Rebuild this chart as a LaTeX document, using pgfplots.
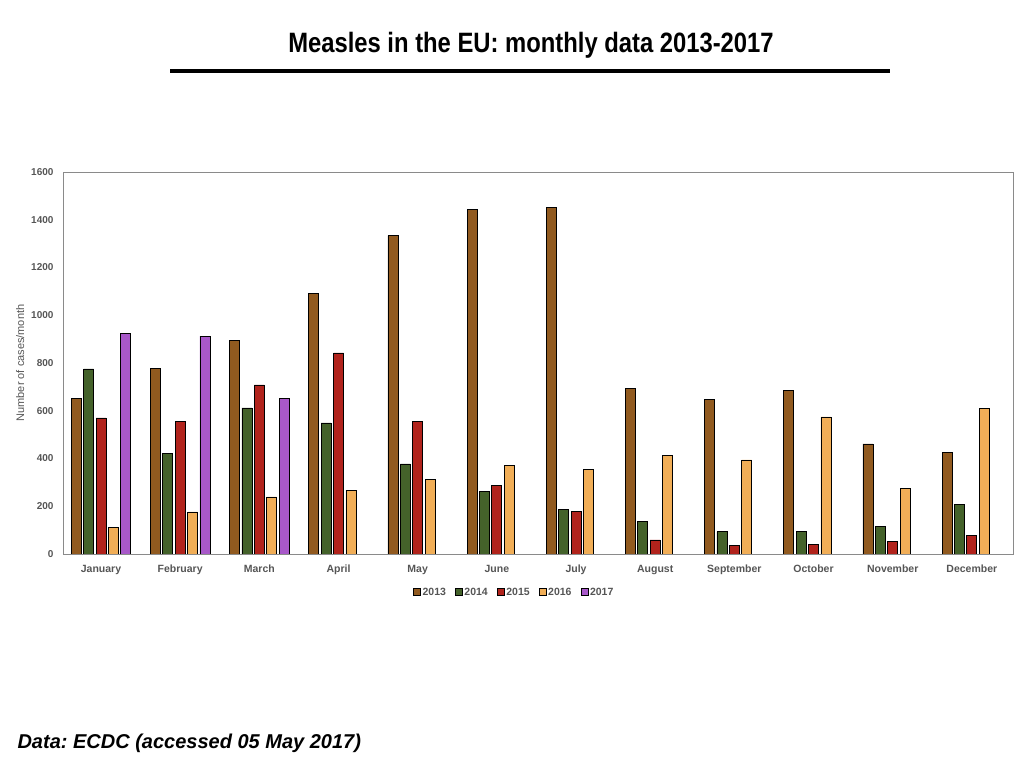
\documentclass[border=0pt]{standalone}
\usepackage{fontspec}
\setmainfont{Liberation Sans}
\newfontfamily\titlefont[FakeStretch=0.85]{Liberation Sans}
\usepackage{pgfplots}
\pgfplotsset{compat=1.18}
\definecolor{c13}{HTML}{915A1F}
\definecolor{c14}{HTML}{44622A}
\definecolor{c15}{HTML}{B1231C}
\definecolor{c16}{HTML}{F1AE57}
\definecolor{c17}{HTML}{A858C9}
\definecolor{txtgray}{HTML}{555555}
\definecolor{axgray}{HTML}{8A8A8A}
\frenchspacing
\begin{document}
\begin{tikzpicture}
\useasboundingbox (0pt,0pt) rectangle (1024pt,768pt);
\node[font=\titlefont\fontsize{28}{30}\selectfont\bfseries] at (531pt,723pt) {Measles in the EU: monthly data 2013-2017};
\fill[black] (170pt,695pt) rectangle (890pt,699pt);
\node[anchor=west, font=\fontsize{20}{24}\selectfont\bfseries\itshape] at (14pt,25pt) {Data: ECDC (accessed 05 May 2017)};
\begin{axis}[
  at={(63pt,214pt)}, anchor=south west,
  scale only axis, width=950pt, height=382pt,
  ybar=2.4pt, bar width=10pt,
  xmin=-0.48, xmax=11.52, ymin=0, ymax=1600,
  xtick=data,
  xticklabels={January,February,March,April,May,June,July,August,September,October,November,December},
  ytick={0,200,...,1600},
  major tick length=0pt,
  axis line style={axgray, line width=0.8pt},
  /pgf/number format/assume math mode=true,
  /pgf/number format/1000 sep={},
  yticklabel style={font=\bfseries\fontsize{10}{12}\selectfont, text=txtgray, xshift=-6pt},
  xticklabel style={font=\bfseries\fontsize{10.5}{12}\selectfont, text=txtgray, text height=8pt, text depth=2.5pt, anchor=north, yshift=-7pt},
  ylabel={Number of cases/month},
  ylabel style={font=\fontsize{11}{13}\selectfont, text=txtgray, at={(axis description cs:-0.045,0.5)}, anchor=center},
  legend columns=5,
  legend style={draw=none, fill=none, at={(0.475,-0.1)}, anchor=center,
    font=\bfseries\fontsize{10.5}{12}\selectfont, text=txtgray,
    /tikz/every even column/.append style={column sep=7pt},
    /tikz/every odd column/.append style={column sep=0pt}},
  legend image code/.code={\draw[#1, draw=black, line width=0.5pt] (1pt,-3.5pt) rectangle (8pt,3.5pt);},
  every axis plot/.append style={draw=black, line width=0.7pt},
]
\addplot[fill=c13] coordinates {(0,650) (1,779) (2,893) (3,1093) (4,1333) (5,1442) (6,1450) (7,692) (8,649) (9,684) (10,461) (11,427)};
\addplot[fill=c14] coordinates {(0,775) (1,423) (2,612) (3,549) (4,377) (5,262) (6,187) (7,138) (8,94) (9,94) (10,116) (11,209)};
\addplot[fill=c15] coordinates {(0,570) (1,555) (2,708) (3,842) (4,554) (5,288) (6,179) (7,59) (8,36) (9,40) (10,52) (11,78)};
\addplot[fill=c16] coordinates {(0,113) (1,176) (2,239) (3,268) (4,311) (5,371) (6,355) (7,412) (8,394) (9,574) (10,276) (11,611)};
\addplot[fill=c17] coordinates {(0,925) (1,913) (2,653)};
\legend{2013,2014,2015,2016,2017}
\end{axis}
\end{tikzpicture}
\end{document}
